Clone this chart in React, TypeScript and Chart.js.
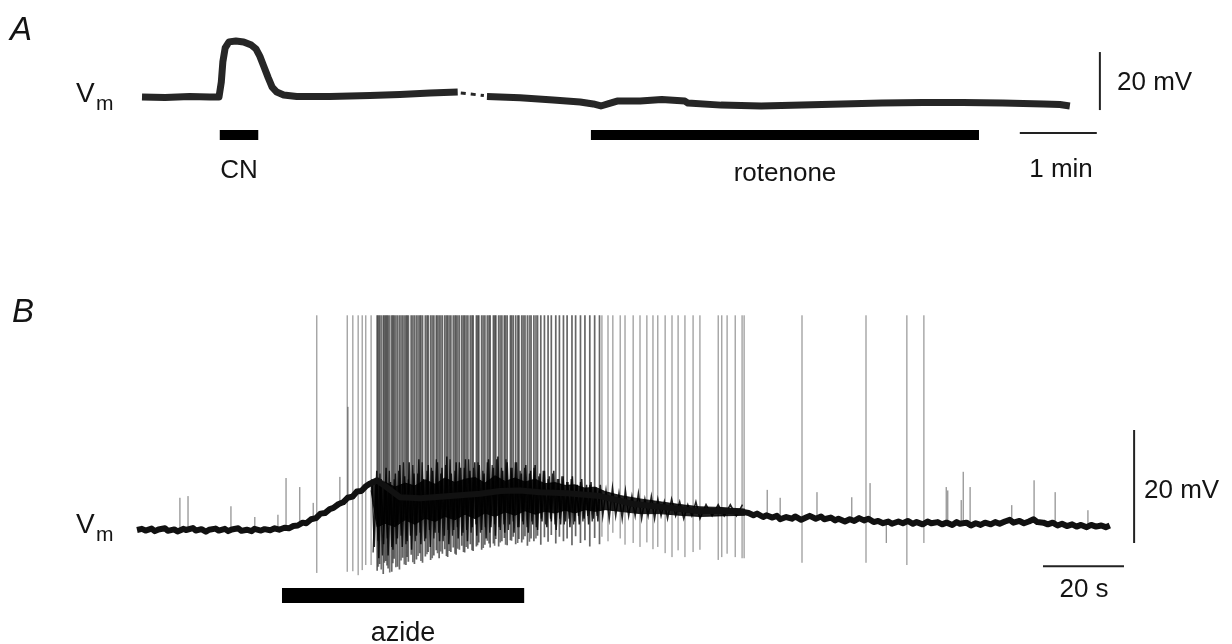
import React, { useEffect, useRef } from "react";
import { Chart, registerables } from "chart.js";
Chart.register(...registerables);

// ---------- Panel A: time (min), membrane potential (mV rel. to rest) ----------
const aTime1 = [0, 0.3, 0.62, 0.88, 1.0, 1.03, 1.05, 1.08, 1.13, 1.22, 1.32, 1.42, 1.48, 1.53, 1.58, 1.64, 1.69, 1.75, 1.84, 2.01, 2.44, 2.96, 3.35, 3.74, 4.1];
const aVm1 = [0, -0.2, 0.2, 0, 0, 5.2, 12.1, 16.9, 19.0, 19.3, 19.0, 17.9, 16.6, 14.1, 10.7, 6.6, 3.4, 1.7, 0.7, 0.2, 0.2, 0.5, 0.9, 1.4, 1.7];
const aGapTime = [4.14, 4.44];
const aGapVm = [1.4, 0.5];
const aTime2 = [4.48, 4.91, 5.34, 5.69, 5.86, 5.96, 6.05, 6.17, 6.47, 6.75, 7.05, 7.09, 7.52, 8.04, 8.57, 9.09, 9.61, 10.14, 10.66, 11.18, 11.71, 11.92, 12.05];
const aVm2 = [0.2, -0.3, -1.0, -1.7, -2.4, -3.1, -2.4, -1.4, -1.4, -0.9, -1.4, -2.1, -2.8, -3.1, -2.8, -2.4, -2.1, -1.9, -1.9, -2.1, -2.4, -2.6, -3.1];
const cnBar = [1.01, 1.51];
const rotenoneBar = [5.83, 10.87];
const aBarLevel = -13.1;
const aScaleTime = [11.4, 12.4]; // 1 min
const aScaleTimeLevel = -12.4;
const aScaleVmTime = 12.44;
const aScaleVm = [-4.5, 15.5]; // 20 mV

// ---------- Panel B: time (s), membrane potential (mV rel. to rest) ----------
const bTrace = [
  [0, 0.0], [1.2, 0.2], [2.1, -0.1], [3.6, 0.25], [4.4, -0.2], [5.3, 0.1], [6.9, 0.3], [7.6, -0.15], [9.2, 0.1], [10.0, -0.25],
  [11.5, 0.2], [12.1, 0.0], [13.8, 0.35], [14.5, -0.1], [15.9, 0.15], [17.0, -0.3], [17.8, 0.05], [19.4, 0.25], [20.2, -0.1], [21.7, 0.2],
  [22.5, -0.2], [23.4, 0.1], [25.0, 0.3], [25.8, -0.15], [27.1, 0.05], [28.3, -0.2], [29.0, 0.2], [30.6, -0.1], [31.5, 0.15], [32.9, -0.05],
  [34.0, 0.3], [35.1, 0.05], [36.4, 0.4], [37.5, 0.3], [38.6, 0.7], [39.7, 0.8], [40.9, 1.3], [41.8, 1.2], [43.0, 1.9], [44.2, 2.1],
  [45.3, 2.9], [46.4, 3.0], [47.6, 3.7], [48.5, 3.9], [49.8, 4.6], [50.9, 4.9], [52.0, 5.7], [53.2, 5.9], [54.3, 6.8], [55.4, 6.9],
  [56.6, 7.8], [57.5, 8.2], [59.3, 8.8],
  [62.5, 7.1], [64.9, 5.8], [69.9, 5.6], [77.3, 6.0], [84.7, 6.4], [89.6, 6.9], [94.6, 7.0], [99.5, 6.7], [106.2, 6.5],
  [114.3, 6.0], [122.5, 4.6], [130.9, 4.0], [139.0, 3.3], [144.0, 3.4], [149.6, 3.2],
  [151.0, 3.0], [152.2, 2.6], [153.1, 2.9], [154.6, 2.3], [155.4, 2.6], [156.9, 2.2], [158.0, 2.5], [158.8, 1.9], [160.3, 2.3], [161.7, 2.0],
  [162.5, 2.4], [164.0, 1.8], [165.2, 2.2], [166.1, 2.5], [167.6, 2.0], [168.9, 2.4], [169.7, 1.9], [171.3, 2.2], [172.4, 1.7], [173.2, 2.0],
  [174.8, 1.5], [176.0, 1.9], [177.1, 1.6], [178.3, 2.1], [179.5, 1.7], [180.6, 2.0], [181.9, 1.4], [183.0, 1.6], [184.2, 1.2], [185.5, 1.5],
  [186.4, 1.1], [188.0, 1.5], [189.1, 1.2], [190.3, 1.6], [191.6, 1.1], [192.5, 1.4], [194.0, 1.0], [195.2, 1.5], [196.1, 1.2], [197.7, 1.4],
  [198.8, 1.0], [199.9, 1.3], [201.3, 0.9], [202.4, 1.4], [203.2, 1.1], [204.8, 1.3], [205.9, 0.8], [207.1, 1.2], [208.3, 0.9], [209.4, 1.3],
  [210.8, 1.0], [211.9, 1.4], [213.0, 1.1], [214.3, 1.5], [215.5, 1.8], [216.4, 1.3], [217.9, 1.6], [219.0, 1.2], [220.2, 1.5], [221.4, 1.9],
  [222.3, 1.4], [223.8, 1.3], [224.9, 1.0], [226.1, 1.3], [227.3, 0.8], [228.4, 1.1], [229.6, 0.7], [230.9, 1.0], [232.0, 0.6], [233.1, 0.9],
  [234.5, 0.5], [235.6, 0.9], [236.8, 0.6], [238.1, 0.8], [239.2, 0.5], [240.2, 0.8],
];

// fast membrane noise during the burst (two interleaved readings)
const bBurstNoise = [
  [58.0, 9.0], [58.6, -3.0], [59.2, 10.5], [59.7, -5.0], [60.3, 9.0], [60.9, -2.5], [61.5, 11.0], [62.0, -4.5], [62.6, 8.5], [63.2, -3.5],
  [63.8, 10.0], [64.3, -1.5], [64.9, 11.5], [65.5, -3.0], [66.1, 9.5], [66.7, -2.0], [67.2, 12.0], [67.8, -3.5], [68.4, 10.0], [69.0, -1.0],
  [69.6, 12.5], [70.1, -2.5], [70.7, 9.0], [71.3, -1.5], [71.9, 11.5], [72.4, -3.0], [73.0, 10.5], [73.6, -0.5], [74.2, 12.0], [74.7, -2.0],
  [75.3, 11.0], [75.9, -1.0], [76.5, 13.0], [77.0, -2.5], [77.6, 10.0], [78.2, 0.0], [78.8, 12.0], [79.3, -1.5], [79.9, 11.0], [80.5, -0.5],
  [81.1, 12.5], [81.6, -2.0], [82.2, 10.5], [82.8, 0.5], [83.4, 12.0], [83.9, -1.0], [84.5, 11.5], [85.1, 0.0], [85.7, 10.0], [86.2, -1.5],
  [86.8, 12.5], [87.4, 0.5], [88.0, 11.0], [88.5, -1.0], [89.1, 13.0], [89.7, 0.0], [90.3, 10.5], [90.8, -0.5], [91.4, 12.0], [92.0, 1.0],
  [92.6, 11.0], [93.1, -0.5], [93.7, 12.0], [94.3, 0.5], [94.9, 10.0], [95.4, 1.0], [96.0, 11.5], [96.6, -0.5], [97.2, 10.5], [97.7, 1.0],
  [98.3, 11.5], [98.9, 0.0], [99.5, 10.0], [100.0, 1.5], [100.6, 10.5], [101.2, 0.5], [101.8, 9.5], [102.3, 1.5], [102.9, 10.5], [103.5, 0.0],
  [104.1, 9.0], [104.6, 1.0], [105.2, 9.5], [105.8, 1.5], [106.4, 8.5], [106.9, 0.5], [107.5, 9.5], [108.1, 1.5], [108.7, 8.0], [109.2, 1.0],
  [109.8, 9.0], [110.4, 2.0], [111.0, 8.0], [111.5, 1.0], [112.1, 8.5], [112.7, 2.0], [113.3, 7.5], [113.8, 1.5], [114.4, 8.0], [115.0, 2.5],
  [115.8, 7.0], [116.6, 2.0], [117.4, 7.5], [118.2, 2.5], [119.0, 6.5], [119.8, 2.0], [120.6, 7.0], [121.4, 2.5], [122.2, 6.0], [123.0, 2.5],
  [123.8, 6.5], [124.6, 2.0], [125.4, 5.5], [126.2, 2.5], [127.0, 6.0], [127.8, 2.0], [128.6, 5.5], [129.4, 2.5], [130.2, 5.0], [131.0, 2.0],
  [132.0, 5.5], [133.0, 2.5], [134.0, 5.0], [135.0, 2.0], [136.0, 4.5], [137.0, 2.5], [138.0, 5.0], [139.0, 2.0], [140.5, 4.5], [142.0, 2.5],
  [143.5, 4.5], [145.0, 2.5], [146.5, 4.5], [148.0, 2.5], [149.5, 4.5],
];
const bBurstNoise2 = [
  [58.3, -4.0], [58.9, 8.0], [59.5, -2.0], [60.0, 10.0], [60.6, -4.5], [61.2, 8.0], [61.8, -1.5], [62.3, 10.5], [62.9, -3.0], [63.5, 9.0],
  [64.0, -2.5], [64.6, 10.5], [65.2, -1.0], [65.8, 12.0], [66.4, -2.5], [67.0, 9.0], [67.5, -1.0], [68.1, 11.5], [68.7, -2.0], [69.3, 10.0],
  [69.9, -0.5], [70.4, 12.0], [71.0, -2.0], [71.6, 10.5], [72.2, 0.0], [72.7, 11.0], [73.3, -1.5], [73.9, 12.5], [74.5, -0.5], [75.0, 10.0],
  [75.6, -2.0], [76.2, 11.5], [76.8, 0.0], [77.3, 12.5], [77.9, -1.0], [78.5, 10.5], [79.1, 0.5], [79.6, 12.0], [80.2, -1.0], [80.8, 11.0],
  [81.4, 0.0], [81.9, 12.5], [82.5, -0.5], [83.1, 11.0], [83.7, 1.0], [84.2, 12.0], [84.8, -0.5], [85.4, 10.5], [86.0, 0.5], [86.5, 12.0],
  [87.1, -0.5], [87.7, 11.5], [88.3, 1.0], [88.8, 12.5], [89.4, 0.5], [90.0, 11.0], [90.6, 1.0], [91.1, 12.5], [91.7, 0.0], [92.3, 11.0],
  [92.9, 1.5], [93.4, 12.0], [94.0, 0.5], [94.6, 10.5], [95.2, 1.5], [95.7, 11.0], [96.3, 0.5], [96.9, 10.0], [97.5, 1.5], [98.0, 11.0],
  [98.6, 0.5], [99.2, 9.5], [99.8, 2.0], [100.3, 10.5], [100.9, 1.0], [101.5, 9.0], [102.1, 2.0], [102.6, 10.0], [103.2, 1.0], [103.8, 9.0],
  [104.4, 2.0], [104.9, 9.5], [105.5, 1.0], [106.1, 8.5], [106.7, 2.0], [107.2, 9.0], [107.8, 1.0], [108.4, 8.0], [109.0, 2.5], [109.5, 8.5],
  [110.1, 1.5], [110.7, 7.5], [111.3, 2.5], [111.8, 8.0], [112.4, 1.5], [113.0, 7.5], [113.6, 2.5], [114.1, 7.0],
];

// dense core of the burst noise
const bBandTime = [57.8, 59.3, 61.2, 63.7, 66.2, 68.6, 71.1, 73.6, 76.0, 78.5, 81.0, 83.5, 85.9, 88.4, 90.9, 93.3, 95.8, 98.3, 100.7, 103.2, 105.7, 108.1, 110.6, 113.1, 115.6, 119.3, 124.2, 129.1, 134.1, 139.0, 143.9, 150.1];
const bBandHigh = [8.6, 8.0, 8.5, 7.6, 8.3, 7.8, 8.9, 8.1, 9.2, 8.4, 9.0, 9.3, 8.3, 9.6, 8.6, 9.2, 8.5, 9.0, 8.2, 8.4, 7.9, 8.0, 7.4, 7.6, 6.8, 6.1, 5.5, 5.0, 4.5, 4.1, 4.0, 3.7];
const bBandLow = [7.0, 0.5, 1.2, 0.6, 1.8, 1.0, 2.1, 1.5, 2.4, 1.8, 2.8, 2.0, 3.0, 2.4, 3.2, 2.6, 3.4, 2.8, 3.3, 3.0, 3.5, 3.0, 3.6, 3.3, 3.6, 3.3, 2.9, 2.9, 2.6, 2.4, 2.5, 2.6];

// action potentials (peaks clipped at the top of the display)
const spikeClip = 38;
const spikeTimesEarly = [44.4, 51.9, 53.3, 54.6, 55.6, 56.5, 57.8];
const spikeLowsEarly = [-7.6, -7.4, -7.3, -8.0, -7.1, -6.2, -6.2];
const spikeTimesBurst = [
  59.3, 59.9, 60.8, 61.4, 62.0, 62.9, 63.5, 64.3, 64.8, 65.6,
  66.4, 67.0, 67.7, 68.5, 69.0, 69.8, 70.5, 71.2, 71.9, 72.5,
  73.3, 73.9, 74.6, 75.4, 76.0, 76.7, 77.5, 78.1, 78.8, 79.6,
  80.2, 80.9, 81.7, 82.3, 83.0, 83.8, 84.4, 85.1, 85.9, 86.5,
  87.2, 88.0, 88.6, 89.3, 90.1, 90.7, 91.4, 92.2, 92.9, 93.5,
  94.3, 95.0, 95.8, 96.4, 97.3, 98.0, 98.9, 99.7, 100.6, 101.5,
  102.3, 103.4, 104.3, 105.3, 106.2, 107.4, 108.3, 109.5, 110.6, 111.8,
  113.0, 114.2,
];
const spikeLowsBurst = [
  -7.2, -6.0, -7.8, -5.5, -6.8, -7.4, -5.1, -6.5, -7.0, -4.9,
  -6.2, -5.6, -4.4, -6.0, -5.2, -4.1, -5.8, -4.7, -3.9, -5.3,
  -4.5, -3.6, -5.0, -4.2, -3.4, -4.8, -3.9, -3.1, -4.4, -3.5,
  -2.8, -4.0, -3.3, -2.5, -3.7, -2.9, -2.2, -3.5, -2.6, -1.9,
  -3.1, -2.4, -1.6, -2.9, -2.0, -1.4, -2.7, -1.8, -1.2, -2.5,
  -1.6, -2.2, -1.1, -2.8, -1.5, -2.0, -1.0, -2.6, -1.3, -2.1,
  -0.9, -2.4, -1.2, -2.0, -1.5, -2.7, -1.1, -2.3, -1.8, -2.9,
  -1.4, -2.5,
];
const spikeTimesDense = [59.6, 60.3, 61.1, 61.7, 62.4, 63.2, 63.9, 65.2, 66.0, 66.7, 68.1, 69.4, 70.1, 71.6, 72.9, 74.2, 75.0, 76.4, 77.1, 78.5, 79.2, 80.6, 81.3, 82.7, 84.1, 85.5, 86.9, 88.3, 89.7, 91.0, 92.5, 94.0, 95.4, 96.9, 98.5];
const spikeLowsDense = [-6.5, -7.0, -5.8, -6.3, -7.5, -5.9, -6.6, -5.4, -6.1, -4.8, -5.7, -4.6, -5.5, -4.3, -5.0, -4.1, -3.8, -4.6, -3.7, -4.2, -3.3, -3.9, -3.0, -3.6, -2.7, -3.2, -2.4, -2.8, -2.2, -2.6, -1.9, -2.3, -1.7, -2.1, -1.5];
const spikeTimesLate = [
  114.8, 116.3, 117.5, 119.3, 120.5, 122.5, 124.2, 125.9, 127.4, 128.6,
  130.4, 132.1, 133.6, 135.3, 137.3, 139.0, 143.5, 144.4, 145.7, 147.7,
  149.4, 149.9, 164.2, 180.0, 190.1, 194.3,
];
const spikeLowsLate = [
  -1.2, -2.0, -0.5, -1.5, -2.6, -2.3, -3.0, -2.2, -3.4, -3.0,
  -4.1, -4.8, -3.6, -4.8, -3.9, -3.5, -5.3, -4.8, -4.2, -4.8,
  -5.0, -5.0, -5.8, -5.8, -6.2, -2.3,
];

// small synaptic-like deflections
const smallTimes = [10.6, 12.6, 23.2, 29.1, 34.8, 36.8, 40.2, 43.5, 50.1, 52.1, 155.6, 158.8, 167.9, 176.5, 181.0, 185.0, 199.8, 200.2, 203.5, 204.0, 205.7, 216.0, 221.5, 226.7, 234.8];
const smallLows = [0, 0, 0, 0, 0.2, 0.3, 1.0, 2.0, 4.5, 5.5, 2.3, 2.2, 2.0, 2.0, 1.5, -2.3, 1.3, 1.3, 1.2, 1.2, 1.2, 1.3, 1.5, 1.2, 1.0];
const smallHighs = [5.7, 6.0, 4.2, 2.3, 2.7, 9.2, 7.6, 4.8, 9.4, 21.8, 7.1, 5.7, 6.7, 5.8, 8.3, 1.8, 7.6, 7.0, 5.3, 10.3, 7.6, 4.4, 8.8, 6.7, 3.5];

const azideBar = [35.8, 95.6];
const bBarLevel = -11.6;
const bScaleTime = [223.7, 243.7]; // 20 s
const bScaleTimeLevel = -6.4;
const bScaleVmTime = 246.2;
const bScaleVm = [-2.3, 17.7]; // 20 mV

// ---------- layout ----------
const W = 1232;
const H = 644;
const A_X0 = 142, A_PX_PER_MIN = 77, A_Y0 = 97, A_PX_PER_MV = 2.9;
const B_X0 = 137, B_PX_PER_S = 4.05, B_Y0 = 530, B_PX_PER_MV = 5.65;

const FONT = '"Liberation Sans", Arial, Helvetica, sans-serif';
const INK = "#141414";

function pts(xs: number[], ys: number[]) {
  const n = Math.min(xs.length, ys.length);
  const out: any[] = [];
  for (let i = 0; i < n; i++) out.push({ x: xs[i], y: ys[i] });
  return out;
}
function pairs(list: number[][]) {
  return list.map((p) => ({ x: p[0], y: p[1] }));
}
function vsegs(ts: number[], lows: number[], highs: number[] | number) {
  const out: any[] = [];
  const n = Math.min(ts.length, lows.length);
  for (let i = 0; i < n; i++) {
    const hi = typeof highs === "number" ? highs : highs[i];
    out.push({ x: ts[i], y: lows[i] }, { x: ts[i], y: hi }, { x: ts[i], y: null });
  }
  return out;
}

const textPlugin = {
  id: "figText",
  afterDraw(chart: any) {
    const ctx = chart.ctx;
    ctx.save();
    ctx.fillStyle = INK;
    ctx.textBaseline = "alphabetic";
    const put = (s: string, x: number, y: number, size: number, align: CanvasTextAlign = "left", italic = false) => {
      ctx.font = `${italic ? "italic " : ""}${size}px ${FONT}`;
      ctx.textAlign = align;
      ctx.fillText(s, x, y);
    };
    put("A", 10, 40, 33, "left", true);
    put("B", 12, 322, 33, "left", true);
    put("V", 76, 102, 28);
    put("m", 96, 110, 21);
    put("V", 76, 533, 28);
    put("m", 96, 541, 21);
    put("CN", 239, 178, 26, "center");
    put("rotenone", 785, 181, 26, "center");
    put("1 min", 1061, 177, 26, "center");
    put("20 mV", 1117, 90, 26);
    put("20 mV", 1144, 498, 26);
    put("20 s", 1084, 597, 26, "center");
    put("azide", 403, 641, 27, "center");
    ctx.restore();
  },
};

export default function App() {
  const ref = useRef<HTMLCanvasElement | null>(null);
  useEffect(() => {
    document.body.style.margin = "0";
    const canvas = ref.current;
    if (!canvas) return;
    const base = { pointRadius: 0, pointHoverRadius: 0, tension: 0, fill: false, spanGaps: false };
    const A = { xAxisID: "xA", yAxisID: "yA" };
    const B = { xAxisID: "xB", yAxisID: "yB" };
    const chart = new Chart(canvas, {
      type: "line",
      data: {
        datasets: [
          { ...base, ...A, label: "A trace 1", data: pts(aTime1, aVm1), borderColor: "#262626", borderWidth: 7, borderJoinStyle: "round", order: 2 },
          { ...base, ...A, label: "A gap", data: pts(aGapTime, aGapVm), borderColor: "#262626", borderWidth: 3, borderDash: [5, 5], order: 2 },
          { ...base, ...A, label: "A trace 2", data: pts(aTime2, aVm2), borderColor: "#262626", borderWidth: 7, borderJoinStyle: "round", order: 2 },
          { ...base, ...A, label: "CN", data: pts(cnBar, [aBarLevel, aBarLevel]), borderColor: "#000", borderWidth: 10, order: 1 },
          { ...base, ...A, label: "rotenone", data: pts(rotenoneBar, [aBarLevel, aBarLevel]), borderColor: "#000", borderWidth: 10, order: 1 },
          { ...base, ...A, label: "1 min", data: pts(aScaleTime, [aScaleTimeLevel, aScaleTimeLevel]), borderColor: "#222", borderWidth: 2, order: 1 },
          { ...base, ...A, label: "20 mV A", data: pts([aScaleVmTime, aScaleVmTime], aScaleVm), borderColor: "#222", borderWidth: 2, order: 1 },

          { ...base, ...B, label: "band high", data: pts(bBandTime, bBandHigh), borderColor: "rgba(10,10,10,0.9)", borderWidth: 1, fill: "+1", backgroundColor: "rgba(10,10,10,0.9)", order: 7 },
          { ...base, ...B, label: "band low", data: pts(bBandTime, bBandLow), borderColor: "rgba(10,10,10,0.9)", borderWidth: 1, order: 7 },
          { ...base, ...B, label: "spikes early", data: vsegs(spikeTimesEarly, spikeLowsEarly, spikeClip), borderColor: "rgba(0,0,0,0.5)", borderWidth: 1, order: 5 },
          { ...base, ...B, label: "spikes burst", data: vsegs(spikeTimesBurst, spikeLowsBurst, spikeClip), borderColor: "rgba(0,0,0,0.6)", borderWidth: 1.7, order: 5 },
          { ...base, ...B, label: "spikes dense", data: vsegs(spikeTimesDense, spikeLowsDense, spikeClip), borderColor: "rgba(0,0,0,0.55)", borderWidth: 1.6, order: 5 },
          { ...base, ...B, label: "spikes late", data: vsegs(spikeTimesLate, spikeLowsLate, spikeClip), borderColor: "rgba(0,0,0,0.5)", borderWidth: 1, order: 5 },
          { ...base, ...B, label: "burst noise", data: pairs(bBurstNoise), borderColor: "rgba(0,0,0,0.85)", borderWidth: 1.5, order: 4 },
          { ...base, ...B, label: "burst noise 2", data: pairs(bBurstNoise2), borderColor: "rgba(0,0,0,0.8)", borderWidth: 1.3, order: 4 },
          { ...base, ...B, label: "small", data: vsegs(smallTimes, smallLows, smallHighs), borderColor: "rgba(0,0,0,0.55)", borderWidth: 1, order: 4 },
          { ...base, ...B, label: "B trace", data: pairs(bTrace), borderColor: "#111", borderWidth: 6, borderJoinStyle: "round", order: 3 },
          { ...base, ...B, label: "azide", data: pts(azideBar, [bBarLevel, bBarLevel]), borderColor: "#000", borderWidth: 15, order: 1 },
          { ...base, ...B, label: "20 s", data: pts(bScaleTime, [bScaleTimeLevel, bScaleTimeLevel]), borderColor: "#222", borderWidth: 2, order: 1 },
          { ...base, ...B, label: "20 mV B", data: pts([bScaleVmTime, bScaleVmTime], bScaleVm), borderColor: "#222", borderWidth: 2, order: 1 },
        ] as any,
      },
      options: {
        animation: false,
        responsive: false,
        devicePixelRatio: 1,
        layout: { padding: 0 },
        events: [],
        plugins: { legend: { display: false }, tooltip: { enabled: false } },
        scales: {
          xA: { type: "linear", axis: "x", display: false, min: -A_X0 / A_PX_PER_MIN, max: (W - A_X0) / A_PX_PER_MIN },
          yA: { type: "linear", axis: "y", display: false, min: -(H - A_Y0) / A_PX_PER_MV, max: A_Y0 / A_PX_PER_MV },
          xB: { type: "linear", axis: "x", display: false, min: -B_X0 / B_PX_PER_S, max: (W - B_X0) / B_PX_PER_S },
          yB: { type: "linear", axis: "y", display: false, min: -(H - B_Y0) / B_PX_PER_MV, max: B_Y0 / B_PX_PER_MV },
        } as any,
      },
      plugins: [textPlugin],
    });
    return () => chart.destroy();
  }, []);
  return (
    <div style={{ position: "relative", width: W, height: H, background: "#fff" }}>
      <canvas ref={ref} width={W} height={H} style={{ display: "block" }} />
    </div>
  );
}
